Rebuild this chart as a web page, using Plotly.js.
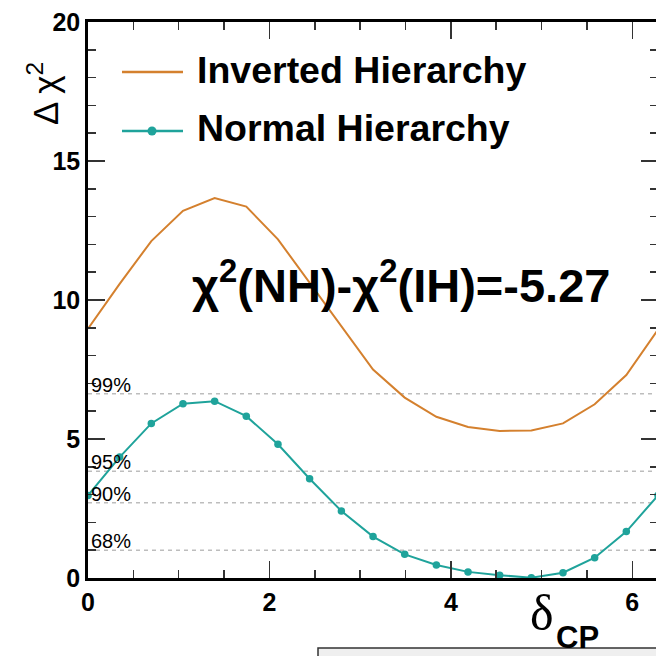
<!DOCTYPE html>
<html>
<head>
<meta charset="utf-8">
<script src="https://cdn.plot.ly/plotly-3.0.1.min.js"></script>
<style>
html, body { margin:0; padding:0; overflow:hidden; background:#fff; }
#chart { width:660px; height:656px; }
</style>
</head>
<body>
<div id="chart"></div>
<script>
// delta_CP values (radians)
const deltaCP = [0, 0.349, 0.698, 1.047, 1.396, 1.745, 2.094, 2.443, 2.793, 3.142,
                 3.491, 3.840, 4.189, 4.538, 4.887, 5.236, 5.585, 5.934, 6.283];
// Delta chi^2 for the inverted hierarchy
const chi2IH = [8.97, 10.58, 12.12, 13.21, 13.67, 13.36, 12.18, 10.62, 9.08, 7.5,
                6.49, 5.8, 5.43, 5.29, 5.31, 5.56, 6.25, 7.3, 8.93];
// Delta chi^2 for the normal hierarchy
const chi2NH = [2.97, 4.35, 5.56, 6.27, 6.36, 5.82, 4.81, 3.57, 2.41, 1.49,
                0.85, 0.47, 0.22, 0.10, 0.01, 0.19, 0.73, 1.67, 2.97];
// confidence level thresholds
const clLabels = ['99%', '95%', '90%', '68%'];
const clValues = [6.63, 3.84, 2.71, 1.0];
const seriesNames = ['Inverted Hierarchy', 'Normal Hierarchy'];
const xTicks = [0, 2, 4, 6];
const yTicks = [0, 5, 10, 15, 20];

const ORANGE = '#d4802e';
const TEAL = '#1fa39b';
const FONT = 'Liberation Sans, Arial, Helvetica, sans-serif';

const traces = [
  { x: deltaCP, y: chi2IH, type: 'scatter', mode: 'lines', name: seriesNames[0],
    line: { color: ORANGE, width: 2 }, showlegend: false },
  { x: deltaCP, y: chi2NH, type: 'scatter', mode: 'lines+markers', name: seriesNames[1],
    line: { color: TEAL, width: 2 }, marker: { color: TEAL, size: 7.5 }, showlegend: false }
];

const shapes = clValues.map(v => ({
  type: 'line', xref: 'paper', yref: 'y', x0: 0, x1: 1, y0: v, y1: v,
  line: { color: '#bdbdbd', width: 1.5, dash: '4px,4px' }, layer: 'below'
}));

// legend samples
shapes.push({ type: 'line', xref: 'paper', yref: 'paper',
  x0: (122-88)/570, x1: (183-88)/570, y0: (578-72)/556, y1: (578-72)/556,
  line: { color: ORANGE, width: 2.5 } });
shapes.push({ type: 'line', xref: 'paper', yref: 'paper',
  x0: (122-88)/570, x1: (183-88)/570, y0: (578-131)/556, y1: (578-131)/556,
  line: { color: TEAL, width: 2.5 } });
shapes.push({ type: 'circle', xref: 'paper', yref: 'paper',
  x0: (147.5-88)/570, x1: (156.5-88)/570, y0: (578-126.5)/556, y1: (578-135.5)/556,
  fillcolor: TEAL, line: { color: TEAL, width: 0 } });
// box at the bottom edge
shapes.push({ type: 'rect', xref: 'paper', yref: 'paper',
  x0: (318-88)/570, x1: 1.2, y0: (578-648)/556, y1: -0.3,
  fillcolor: '#efefef', line: { color: '#333', width: 1.5 } });

const annotations = clLabels.map((t, i) => ({
  x: 0, y: clValues[i], xref: 'x', yref: 'y', text: t, showarrow: false,
  xanchor: 'left', yanchor: 'bottom', xshift: 1, yshift: -4,
  font: { family: FONT, size: 20, color: '#000' }
}));

annotations.push({ xref: 'paper', yref: 'paper', x: (195-88)/570, y: (578-70)/556,
  text: '<b>' + seriesNames[0] + '</b>', showarrow: false, xanchor: 'left', yanchor: 'middle',
  font: { family: FONT, size: 37.5, color: '#000' } });
annotations.push({ xref: 'paper', yref: 'paper', x: (195-88)/570, y: (578-128)/556,
  text: '<b>' + seriesNames[1] + '</b>', showarrow: false, xanchor: 'left', yanchor: 'middle',
  font: { family: FONT, size: 37.5, color: '#000' } });
annotations.push({ xref: 'paper', yref: 'paper', x: (401-88)/570, y: (578-282)/556,
  text: '<b>χ<sup>2</sup>(NH)-χ<sup>2</sup>(IH)=-5.27</b>', showarrow: false,
  xanchor: 'center', yanchor: 'middle',
  font: { family: FONT, size: 47, color: '#000' } });
// y axis title
annotations.push({ xref: 'paper', yref: 'paper', x: (43-88)/570, y: (578-94)/556,
  text: 'Δ χ<sup>2</sup>', showarrow: false, textangle: -90,
  xanchor: 'center', yanchor: 'middle',
  font: { family: FONT, size: 35, color: '#000' } });
// x axis title
annotations.push({ xref: 'paper', yref: 'paper', x: (556-88)/570, y: (578-613)/556,
  text: 'δ', showarrow: false, xanchor: 'right', yanchor: 'middle',
  font: { family: 'Liberation Serif, Times New Roman, serif', size: 50, color: '#000' } });
annotations.push({ xref: 'paper', yref: 'paper', x: (554-88)/570, y: (578-637)/556,
  text: '<b>CP</b>', showarrow: false, xanchor: 'left', yanchor: 'middle',
  font: { family: FONT, size: 31, color: '#000' } });

const axisCommon = {
  showgrid: false, zeroline: false, showline: true, linecolor: '#000', linewidth: 2.8,
  mirror: 'ticks', ticks: 'inside', ticklen: 17, tickwidth: 1.5, tickcolor: '#333',
  tickfont: { family: FONT, size: 25, color: '#000', weight: 'bold' }
};

const layout = {
  width: 660, height: 656,
  margin: { l: 88, r: 2, t: 22, b: 78 },
  paper_bgcolor: '#fff', plot_bgcolor: '#fff',
  showlegend: false,
  xaxis: Object.assign({}, axisCommon, {
    range: [0, 6.2832], tickvals: xTicks, ticktext: xTicks.map(v => '<b>' + v + '</b>'),
    minor: { dtick: 0.5, tick0: 0, ticks: 'inside', ticklen: 8, tickwidth: 1.5, tickcolor: '#333' }
  }),
  yaxis: Object.assign({}, axisCommon, {
    range: [0, 20], tickvals: yTicks, ticktext: yTicks.map(v => '<b>' + v + '</b>'),
    minor: { dtick: 1, tick0: 0, ticks: 'inside', ticklen: 8, tickwidth: 1.5, tickcolor: '#333' }
  }),
  shapes: shapes,
  annotations: annotations
};

Plotly.newPlot('chart', traces, layout, { staticPlot: true, displayModeBar: false });
</script>
</body>
</html>
